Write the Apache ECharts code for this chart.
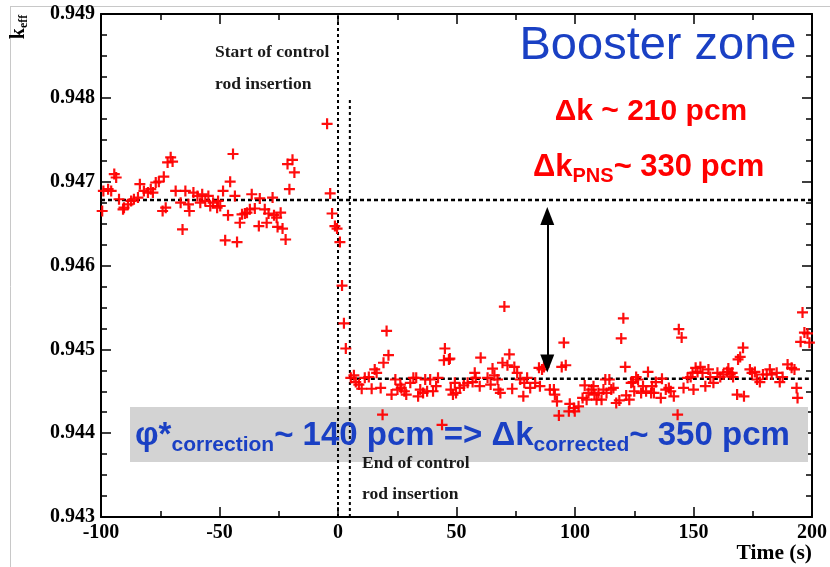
<!DOCTYPE html>
<html><head><meta charset="utf-8">
<script src="https://cdn.jsdelivr.net/npm/echarts@6/dist/echarts.min.js"></script>
<style>html,body{margin:0;padding:0;background:#fff}#c{width:830px;height:567px}</style>
</head><body><div id="c"></div>
<script>
// ---- data ----
const timePre = [-99.5,-99.0,-97.0,-95.7,-94.4,-93.6,-92.4,-90.7,-90.3,-88.6,-87.3,-86.1,-84.4,-83.6,-81.9,-80.2,-79.0,-78.1,-76.9,-75.6,-74.0,-73.5,-72.7,-71.9,-70.6,-69.8,-68.5,-66.4,-65.6,-64.4,-63.1,-62.7,-61.0,-59.3,-58.1,-57.3,-56.0,-54.7,-53.9,-52.7,-51.0,-50.6,-49.7,-48.5,-47.6,-46.4,-45.5,-44.3,-43.5,-42.6,-41.4,-40.5,-39.3,-38.4,-37.2,-36.4,-35.1,-33.4,-33.0,-30.9,-30.1,-29.3,-27.6,-27.0,-25.9,-25.5,-24.2,-23.4,-22.1,-21.3,-20.5,-19.2,-18.4,-4.6,-3.3,-2.5,-1.3,-0.4,0.8,1.7,2.5,3.3];
const keffPre = [0.94665,0.94689,0.94691,0.94689,0.94709,0.94705,0.94679,0.94667,0.94669,0.94673,0.94677,0.94679,0.94681,0.94697,0.94689,0.94687,0.94691,0.94687,0.94699,0.94700,0.94665,0.94706,0.94669,0.94723,0.94729,0.94724,0.94689,0.94675,0.94643,0.94689,0.94673,0.94665,0.94687,0.94683,0.94675,0.94685,0.94677,0.94683,0.94671,0.94675,0.94669,0.94677,0.94671,0.94689,0.94630,0.94660,0.94700,0.94733,0.94683,0.94628,0.94651,0.94661,0.94662,0.94663,0.94667,0.94685,0.94668,0.94647,0.94680,0.94667,0.94651,0.94662,0.94681,0.94660,0.94657,0.94646,0.94663,0.94644,0.94631,0.94721,0.94691,0.94726,0.94711,0.94769,0.94686,0.94662,0.94647,0.94644,0.94628,0.94576,0.94531,0.94501];
const timePost = [5.4,6.7,7.5,8.8,10.0,11.3,13.0,14.2,15.5,16.3,18.0,18.8,19.2,20.5,21.3,22.6,24.2,25.1,26.3,26.7,28.0,28.8,30.5,31.8,33.0,33.8,34.7,35.9,36.8,37.6,38.9,40.1,41.4,42.2,43.9,44.7,45.1,46.8,47.2,47.6,48.5,49.3,49.8,51.4,53.1,54.7,56.8,57.7,58.1,59.8,60.2,63.1,64.4,65.2,66.0,67.3,67.7,68.5,69.4,70.2,71.5,72.3,73.5,74.4,75.6,76.9,78.6,78.2,79.8,81.1,83.2,84.8,85.2,86.1,86.9,89.4,91.1,91.5,92.4,93.2,94.4,95.3,96.1,97.4,97.8,99.5,99.9,101.5,103.2,104.1,104.9,105.7,107.0,107.8,108.2,109.1,109.9,111.2,112.0,112.8,113.3,114.5,115.3,116.2,117.4,118.7,119.5,120.4,121.2,121.6,122.9,123.7,124.5,125.0,125.8,126.6,127.9,128.7,130.0,130.8,132.1,132.5,133.3,134.1,136.2,136.7,138.3,139.6,140.4,141.7,143.3,143.8,145.0,145.8,147.5,148.8,149.6,150.0,150.9,151.7,152.9,153.8,155.0,156.3,157.1,158.4,160.1,161.3,162.6,164.2,164.7,165.5,166.3,166.7,168.4,168.8,169.7,170.9,171.3,173.8,174.7,175.9,176.8,178.0,179.3,180.9,182.2,183.0,185.1,186.4,187.6,189.7,191.4,192.6,193.5,193.9,195.2,196.0,196.8,198.1,198.9];
const keffPost = [0.94466,0.94469,0.94461,0.94458,0.94453,0.94466,0.94467,0.94453,0.94476,0.94472,0.94454,0.94422,0.94484,0.94522,0.94493,0.94446,0.94464,0.94452,0.94458,0.94454,0.94450,0.94446,0.94460,0.94466,0.94466,0.94444,0.94452,0.94448,0.94464,0.94450,0.94464,0.94450,0.94456,0.94466,0.94410,0.94487,0.94501,0.94488,0.94489,0.94452,0.94446,0.94460,0.94448,0.94454,0.94457,0.94460,0.94461,0.94472,0.94466,0.94456,0.94490,0.94466,0.94458,0.94477,0.94469,0.94464,0.94452,0.94448,0.94484,0.94551,0.94481,0.94494,0.94453,0.94479,0.94472,0.94464,0.94460,0.94444,0.94466,0.94454,0.94460,0.94478,0.94456,0.94476,0.94479,0.94452,0.94452,0.94446,0.94438,0.94421,0.94479,0.94508,0.94481,0.94426,0.94435,0.94430,0.94426,0.94432,0.94442,0.94457,0.94440,0.94448,0.94452,0.94456,0.94446,0.94440,0.94448,0.94440,0.94452,0.94464,0.94448,0.94464,0.94452,0.94454,0.94436,0.94439,0.94513,0.94537,0.94479,0.94445,0.94440,0.94460,0.94461,0.94450,0.94467,0.94464,0.94448,0.94456,0.94450,0.94473,0.94448,0.94456,0.94448,0.94461,0.94442,0.94465,0.94452,0.94454,0.94450,0.94444,0.94422,0.94524,0.94514,0.94454,0.94466,0.94467,0.94472,0.94452,0.94478,0.94473,0.94479,0.94472,0.94456,0.94476,0.94467,0.94460,0.94472,0.94467,0.94470,0.94473,0.94477,0.94470,0.94472,0.94467,0.94446,0.94488,0.94491,0.94502,0.94444,0.94476,0.94472,0.94473,0.94464,0.94461,0.94470,0.94470,0.94476,0.94470,0.94472,0.94461,0.94467,0.94482,0.94478,0.94476,0.94454,0.94442,0.94509,0.94544,0.94520,0.94519,0.94508];

const kBefore = 0.94678;      // mean k_eff before insertion
const kAfter = 0.94465;       // mean k_eff after insertion
const tRodStart = 0;          // start of control rod insertion (s)
const tRodEnd = 5;            // end of control rod insertion (s)
const kRodEndLineTop = 0.94798;
const tArrow = 88.3;
const kArrowTop = 0.94659;
const kArrowBottom = 0.94483;

const xRange = [-100, 200], xStep = 50;
const yRange = [0.943, 0.949], yStep = 0.001;

// ---- chart ----
const chart = echarts.init(document.getElementById('c'), null, {renderer: 'canvas'});
const points = timePre.map((t, i) => [t, keffPre[i]]).concat(timePost.map((t, i) => [t, keffPost[i]]));
const serif = "'Liberation Serif','Times New Roman',serif";
const sans = "'Liberation Sans',Arial,sans-serif";
const plus = 'path://M4,0H6V4H10V6H6V10H4V6H0V4H4Z';
const blue = '#1a40c4';
const red = '#ff0000';

function xAx(pos, lbl) {
  return {type: 'value', position: pos, min: xRange[0], max: xRange[1], interval: xStep,
    axisLine: {show: true, onZero: false, lineStyle: {color: '#000', width: 2}},
    axisTick: {show: true, inside: true, length: 10, lineStyle: {color: '#000', width: 1.5}},
    minorTick: {show: true, splitNumber: 2, length: 6, lineStyle: {color: '#000', width: 1.5}},
    splitLine: {show: false}, minorSplitLine: {show: false},
    axisLabel: {show: lbl, fontFamily: serif, fontWeight: 'bold', fontSize: 20, color: '#000', margin: 6}};
}
function yAx(pos, lbl) {
  return {type: 'value', position: pos, min: yRange[0], max: yRange[1], interval: yStep,
    axisLine: {show: true, onZero: false, lineStyle: {color: '#000', width: 2}},
    axisTick: {show: true, inside: true, length: 10, lineStyle: {color: '#000', width: 1.5}},
    minorTick: {show: true, splitNumber: 4, length: 6, lineStyle: {color: '#000', width: 1.5}},
    splitLine: {show: false}, minorSplitLine: {show: false},
    axisLabel: {show: lbl, fontFamily: serif, fontWeight: 'bold', fontSize: 20, color: '#000', margin: 6,
      formatter: v => v.toFixed(3)}};
}
const dash = (w, t) => ({color: '#000', width: w, type: t});

chart.setOption({
  animation: false,
  backgroundColor: '#fff',
  grid: {left: 101, right: 12, top: 14, bottom: 50, containLabel: false},
  xAxis: [xAx('bottom', true), xAx('top', false)],
  yAxis: [yAx('left', true), yAx('right', false)],
  series: [
    {type: 'line', data: [[xRange[0], kBefore], [xRange[1], kBefore]], symbol: 'none', silent: true, z: 3, lineStyle: dash(2.5, [4, 3])},
    {type: 'line', data: [[tRodEnd, kAfter], [xRange[1], kAfter]], symbol: 'none', silent: true, z: 3, lineStyle: dash(2.5, [4, 3])},
    {type: 'line', data: [[tRodStart, yRange[0]], [tRodStart, yRange[1]]], symbol: 'none', silent: true, z: 3, lineStyle: dash(2, [3, 3])},
    {type: 'line', data: [[tRodEnd, yRange[0]], [tRodEnd, kRodEndLineTop]], symbol: 'none', silent: true, z: 3, lineStyle: dash(2, [3, 3])},
    {type: 'line', data: [], silent: true, z: 5,
      markLine: {silent: true, symbol: ['triangle', 'triangle'], symbolSize: [14, 18], label: {show: false},
        lineStyle: {color: '#000', width: 2, type: 'solid'}, itemStyle: {color: '#000'},
        data: [[{coord: [tArrow, kArrowTop]}, {coord: [tArrow, kArrowBottom]}]]}},
    {type: 'scatter', data: points, symbol: plus, symbolSize: 11, z: 4,
      itemStyle: {color: red, opacity: 0.95}}
  ],
  graphic: [
    {type: 'line', shape: {x1: 10, y1: 6.5, x2: 830, y2: 6.5}, style: {stroke: '#c8c8c8', lineWidth: 1}, silent: true},
    {type: 'line', shape: {x1: 10.5, y1: 6, x2: 10.5, y2: 567}, style: {stroke: '#c8c8c8', lineWidth: 1}, silent: true},
    {type: 'rect', shape: {x: 130, y: 407, width: 678, height: 55}, style: {fill: '#d3d3d3'}, z: 1, silent: true},
    {type: 'text', x: 135, y: 436, z: 100, silent: true,
      style: {text: '{m|φ*}{s|correction}{m|~ 140 pcm => Δk}{s|corrected}{m|~ 350 pcm}', align: 'left', verticalAlign: 'middle',
        rich: {m: {fontSize: 33, fontWeight: 'bold', fontFamily: sans, fill: blue, lineHeight: 40, verticalAlign: 'middle'},
               s: {fontSize: 21, fontWeight: 'bold', fontFamily: sans, fill: blue, lineHeight: 21, verticalAlign: 'bottom'}}}},
    {type: 'text', x: 658, y: 46, z: 100, silent: true,
      style: {text: 'Booster zone', fontSize: 47, fontFamily: sans, fill: blue, align: 'center', verticalAlign: 'middle'}},
    {type: 'text', x: 651, y: 112, z: 100, silent: true,
      style: {text: 'Δk ~ 210 pcm', fontSize: 30, fontWeight: 'bold', fontFamily: sans, fill: red, align: 'center', verticalAlign: 'middle'}},
    {type: 'text', x: 533, y: 167, z: 100, silent: true,
      style: {text: '{m|Δk}{s|PNS}{m|~ 330 pcm}', align: 'left', verticalAlign: 'middle',
        rich: {m: {fontSize: 31, fontWeight: 'bold', fontFamily: sans, fill: red, lineHeight: 38, verticalAlign: 'middle'},
               s: {fontSize: 20, fontWeight: 'bold', fontFamily: sans, fill: red, lineHeight: 20, verticalAlign: 'bottom'}}}},
    {type: 'text', x: 215, y: 52, z: 100, silent: true,
      style: {text: 'Start of control', fontSize: 17.5, fontWeight: 'bold', fontFamily: serif, fill: '#1a1a1a', align: 'left', verticalAlign: 'middle'}},
    {type: 'text', x: 215, y: 84, z: 100, silent: true,
      style: {text: 'rod insertion', fontSize: 17.5, fontWeight: 'bold', fontFamily: serif, fill: '#1a1a1a', align: 'left', verticalAlign: 'middle'}},
    {type: 'text', x: 362, y: 463, z: 100, silent: true,
      style: {text: 'End of control', fontSize: 17.5, fontWeight: 'bold', fontFamily: serif, fill: '#1a1a1a', align: 'left', verticalAlign: 'middle'}},
    {type: 'text', x: 362, y: 494, z: 100, silent: true,
      style: {text: 'rod insertion', fontSize: 17.5, fontWeight: 'bold', fontFamily: serif, fill: '#1a1a1a', align: 'left', verticalAlign: 'middle'}},
    {type: 'text', x: 812, y: 553, z: 100, silent: true,
      style: {text: 'Time (s)', fontSize: 21.5, fontWeight: 'bold', fontFamily: serif, fill: '#000', align: 'right', verticalAlign: 'middle'}},
    {type: 'text', x: 19, y: 27, rotation: Math.PI / 2, z: 100, silent: true,
      style: {text: '{k|k}{e|eff}', align: 'center', verticalAlign: 'middle',
        rich: {k: {fontSize: 20, fontWeight: 'bold', fontFamily: serif, fill: '#000', lineHeight: 22, verticalAlign: 'middle'},
               e: {fontSize: 12, fontWeight: 'bold', fontFamily: serif, fill: '#000', lineHeight: 12, verticalAlign: 'bottom'}}}}
  ]
});
</script></body></html>
